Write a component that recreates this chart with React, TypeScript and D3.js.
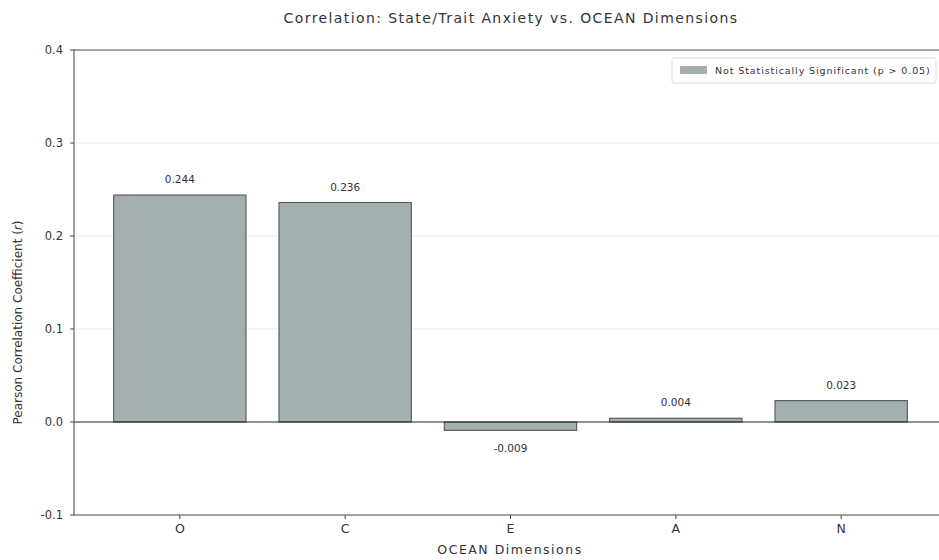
import React from "react";
import * as d3 from "d3";

const categories = ["O", "C", "E", "A", "N"];
const values = [0.244, 0.236, -0.009, 0.004, 0.023];
const valueLabels = ["0.244", "0.236", "-0.009", "0.004", "0.023"];
const yTicks = [-0.1, 0.0, 0.1, 0.2, 0.3, 0.4];

const W = 939;
const H = 560;
const left = 74;
const right = 947;
const top = 50;
const bottom = 515;
const FONT = "'DejaVu Sans', sans-serif";

export default function App() {
  const x = d3.scaleLinear().domain([-0.64, 4.64]).range([left, right]);
  const y = d3.scaleLinear().domain([-0.1, 0.4]).range([bottom, top]);
  const bw = 0.8;
  return (
    <svg width={W} height={H} style={{ position: "absolute", left: 0, top: 0, background: "#fff" }}>
      <text x={511} y={23} textAnchor="middle" fontFamily={FONT} fontSize={14} letterSpacing={1.4} fill="#333">
        Correlation: State/Trait Anxiety vs. OCEAN Dimensions
      </text>
      {[0.1, 0.2, 0.3].map((t) => (
        <line key={t} x1={left} x2={right} y1={y(t)} y2={y(t)} stroke="#ebebeb" strokeWidth={1} />
      ))}
      {values.map((v, i) => {
        const x0 = x(i - bw / 2);
        const x1 = x(i + bw / 2);
        const y0 = y(Math.max(0, v));
        const y1 = y(Math.min(0, v));
        return (
          <rect key={i} x={x0} y={y0} width={x1 - x0} height={Math.max(y1 - y0, 0.5)}
            fill="#a4b0b0" stroke="#5a5f5f" strokeWidth={1.2} />
        );
      })}
      {values.map((v, i) => (
        <text key={"l" + i} x={x(i)} y={v >= 0 ? y(v) - 12 : y(v) + 22} textAnchor="middle"
          fontFamily={FONT} fontSize={10.5} fill="#333">{valueLabels[i]}</text>
      ))}
      <line x1={left} x2={right} y1={y(0)} y2={y(0)} stroke="#222" strokeWidth={1} />
      <rect x={left} y={top} width={right - left} height={bottom - top} fill="none" stroke="#444" strokeWidth={1} />
      {yTicks.map((t) => (
        <g key={t}>
          <line x1={left - 4} x2={left} y1={y(t)} y2={y(t)} stroke="#444" />
          <text x={left - 11} y={y(t) + 4} textAnchor="end" fontFamily={FONT} fontSize={11.5} fill="#333">
            {t.toFixed(1)}
          </text>
        </g>
      ))}
      {categories.map((c, i) => (
        <g key={c}>
          <line x1={x(i)} x2={x(i)} y1={bottom} y2={bottom + 4} stroke="#444" />
          <text x={x(i)} y={bottom + 18} textAnchor="middle" fontFamily={FONT} fontSize={12.5} fill="#333">{c}</text>
        </g>
      ))}
      <text x={510} y={554} textAnchor="middle" fontFamily={FONT} fontSize={12.5} letterSpacing={1.5} fill="#333">OCEAN Dimensions</text>
      <text transform={`translate(22,${(top + bottom) / 2 + 40}) rotate(-90)`} textAnchor="middle"
        fontFamily={FONT} fontSize={12} fill="#333">
        Pearson Correlation Coefficient (<tspan fontStyle="italic">r</tspan>)
      </text>
      <rect x={672} y={58} width={264} height={25} rx={2} fill="#fff" fillOpacity={0.9} stroke="#ddd" />
      <rect x={680} y={66} width={27} height={8} fill="#a4b0b0" />
      <text x={715} y={74} fontFamily={FONT} fontSize={9.5} letterSpacing={0.9} fill="#333">Not Statistically Significant (p &gt; 0.05)</text>
    </svg>
  );
}
